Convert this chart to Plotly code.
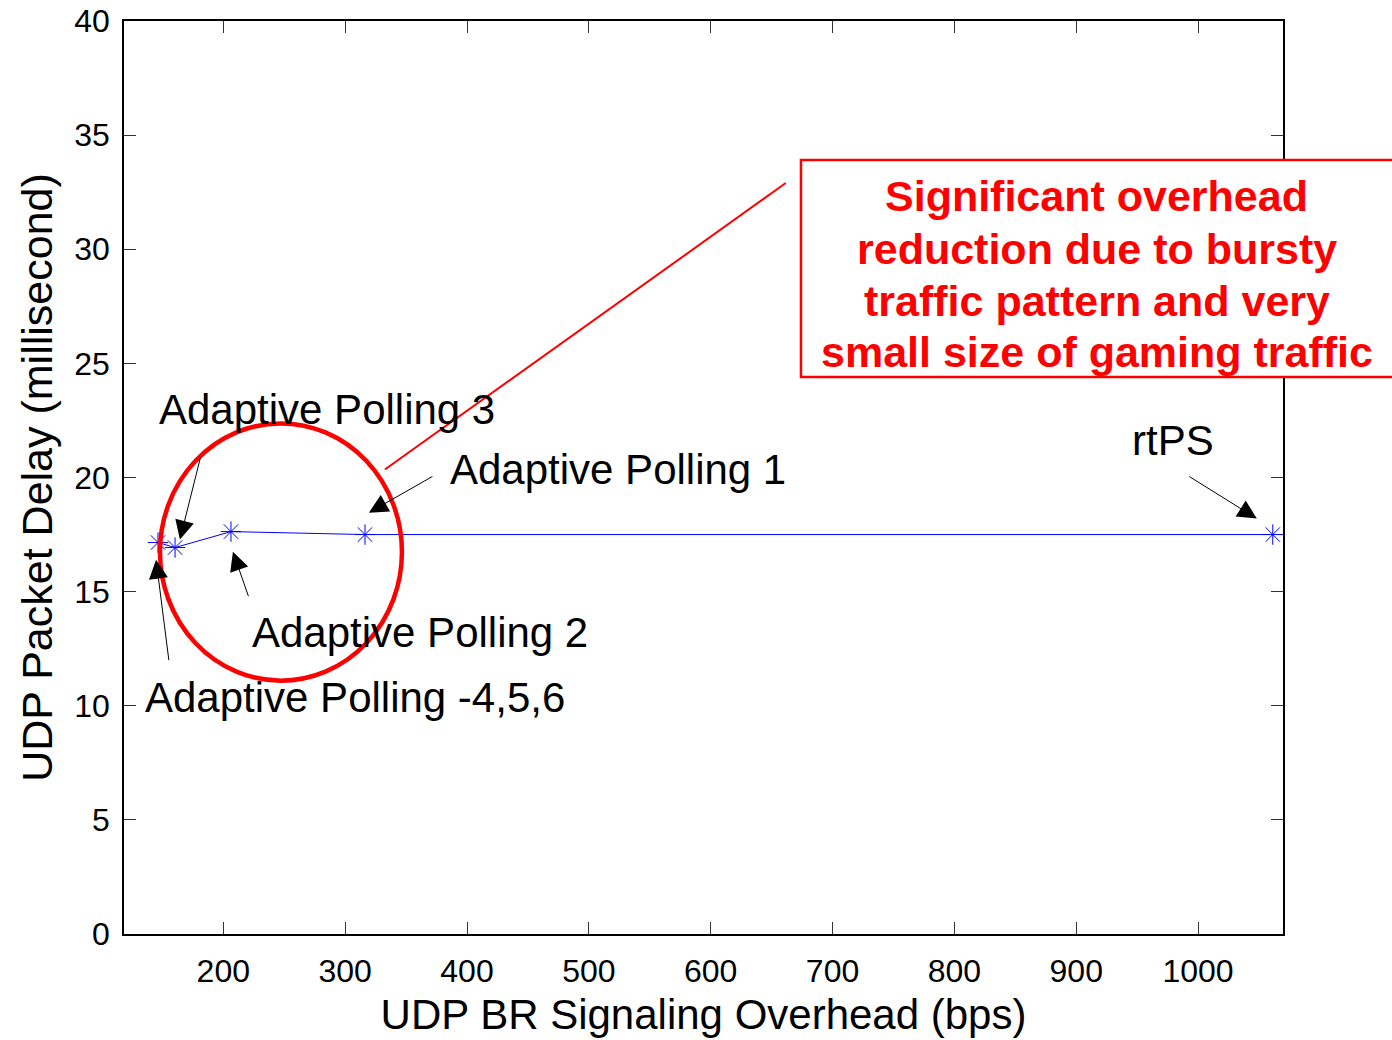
import plotly.graph_objects as go

# Data
overhead_bps = [146.4, 160.4, 206.3, 316.3, 1061.3]
delay_ms = [17.15, 16.93, 17.63, 17.5, 17.5]

x_ticks = [200, 300, 400, 500, 600, 700, 800, 900, 1000]
y_ticks = [0, 5, 10, 15, 20, 25, 30, 35, 40]

labels = ["Adaptive Polling 3", "Adaptive Polling 1", "Adaptive Polling 2",
          "Adaptive Polling -4,5,6", "rtPS"]
label_x = [145.6, 384.3, 221.9, 134.1, 943.8]
label_y = [22.98, 20.35, 13.2, 10.35, 21.62]
arrow_tip_x = [164.4, 319.5, 207.9, 144.8, 1048.2]
arrow_tip_y = [17.28, 18.46, 16.75, 16.4, 18.2]
arrow_ax = [21, 65, 16, 13, -69]
arrow_ay = [-84, -37, 46, 102, -43]

note_lines = ["Significant overhead", "reduction due to bursty",
              "traffic pattern and very", "small size of gaming traffic"]
note_line_y = [32.32, 30.0, 27.72, 25.48]
note_x = 916.9

FONT = "Liberation Sans, Arial, sans-serif"

fig = go.Figure()
fig.add_trace(go.Scatter(
    x=overhead_bps, y=delay_ms, mode="lines+markers",
    line=dict(color="#0000FF", width=1),
    marker=dict(symbol="asterisk-open", size=17, color="#0000FF",
                line=dict(color="#0000FF", width=1)),
    showlegend=False, cliponaxis=False,
))

annotations = []
for t, lx, ly in zip(labels, label_x, label_y):
    annotations.append(dict(x=lx, y=ly, xref="x", yref="y", text=t,
                            showarrow=False, xanchor="left", yanchor="middle",
                            font=dict(family=FONT, size=42, color="black")))
for tx, ty, ax, ay in zip(arrow_tip_x, arrow_tip_y, arrow_ax, arrow_ay):
    annotations.append(dict(x=tx, y=ty, xref="x", yref="y", text="",
                            showarrow=True, ax=ax, ay=ay, axref="pixel", ayref="pixel",
                            arrowhead=2, arrowsize=3.8, arrowwidth=1,
                            arrowcolor="black", standoff=0))
for t, ly in zip(note_lines, note_line_y):
    annotations.append(dict(x=note_x, y=ly, xref="x", yref="y", text="<b>" + t + "</b>",
                            showarrow=False, xanchor="center", yanchor="middle",
                            font=dict(family=FONT, size=43, color="#FF0000")))

fig.update_layout(
    width=1392, height=1040,
    paper_bgcolor="white", plot_bgcolor="white",
    margin=dict(l=124, r=109, t=21, b=106, autoexpand=False),
    font=dict(family=FONT, size=32, color="black"),
    annotations=annotations,
    shapes=[
        dict(type="line", xref="x", yref="y", x0=332.6, y0=20.35, x1=661.6, y1=32.9,
             line=dict(color="#FF0000", width=2)),
        dict(type="circle", xref="x", yref="y", x0=148.0, y0=11.1, x1=346.6, y1=22.37,
             line=dict(color="#FF0000", width=4.5)),
        dict(type="rect", xref="paper", yref="paper", x0=0.5841, y0=0.610, x1=1.12, y1=0.8477,
             line=dict(color="#FF0000", width=2.5), fillcolor="white", layer="above"),
    ],
)
fig.update_xaxes(
    range=[118.5, 1069.7], tickvals=x_ticks, ticks="inside", ticklen=12,
    tickcolor="#333333", showline=True, linecolor="black", linewidth=1.5,
    mirror="ticks", showgrid=False, zeroline=False, automargin=False,
    tickfont=dict(size=32, family=FONT), ticklabelstandoff=8, ticklabeloverflow="allow",
    title=dict(text="UDP BR Signaling Overhead (bps)", font=dict(size=42, family=FONT), standoff=11),
)
fig.update_yaxes(
    range=[0, 40], tickvals=y_ticks, ticks="inside", ticklen=12,
    tickcolor="#333333", showline=True, linecolor="black", linewidth=1.5,
    mirror="ticks", showgrid=False, zeroline=False, automargin=False,
    tickfont=dict(size=32, family=FONT), ticklabelstandoff=6, ticklabeloverflow="allow",
    title=dict(text="UDP Packet Delay (millisecond)", font=dict(size=43, family=FONT), standoff=8),
)

fig.write_html("out.html", config={"displayModeBar": False},
               post_script="document.body.style.margin='0px';")
